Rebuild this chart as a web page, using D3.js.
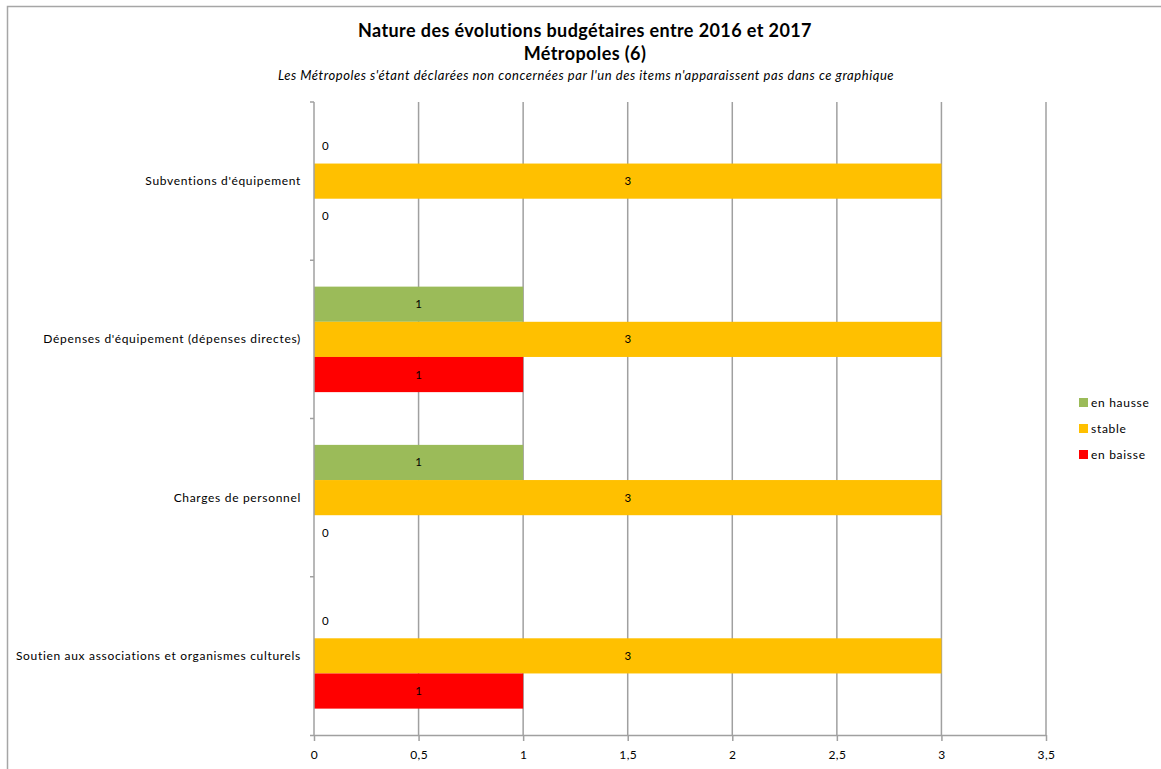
<!DOCTYPE html>
<html><head><meta charset="utf-8">
<script src="https://cdn.jsdelivr.net/npm/d3@7"></script>
<style>body{margin:0;background:#fff;font-family:Lato,"Open Sans",sans-serif;}</style>
</head><body><svg id="c" width="1161" height="769"></svg>
<script>
const categories = ["Subventions d'équipement","Dépenses d'équipement (dépenses directes)","Charges de personnel","Soutien aux associations et organismes culturels"];
const seriesNames = ["en hausse","stable","en baisse"];
const enHausse = [0,1,1,0];
const stable = [3,3,3,3];
const enBaisse = [0,1,0,1];
const xTicks = [0,0.5,1,1.5,2,2.5,3,3.5];
const colors = ["#9BBB59","#FFC000","#FF0000"];
const seriesValues = [enHausse, stable, enBaisse];

(function(){
const svg = d3.select("#c");
const W=1161,H=769;
const pL=314,pR=1046,pT=102,pB=735;
svg.append("rect").attr("x",7.5).attr("y",6.5).attr("width",W+10).attr("height",H+10).attr("fill","#fff").attr("stroke","#a6a6a6").attr("stroke-width",1.5);

const x = d3.scaleLinear().domain([0,3.5]).range([pL,pR]);
const y0 = d3.scaleBand().domain(categories).range([pT,pB]).paddingInner(1/3).paddingOuter(1/6);
const y1 = d3.scaleBand().domain(seriesNames).range([0,y0.bandwidth()]);

svg.append("g").selectAll("line").data(xTicks.slice(1)).join("line")
  .attr("x1",d=>x(d)).attr("x2",d=>x(d)).attr("y1",pT).attr("y2",pB)
  .attr("stroke","#a0a0a0").attr("stroke-width",1.5);

const data = [];
categories.forEach((c,i)=>seriesNames.forEach((s,j)=>data.push({c,s,j,v:seriesValues[j][i]})));
svg.append("g").selectAll("rect").data(data.filter(d=>d.v>0)).join("rect")
  .attr("x",x(0)).attr("y",d=>y0(d.c)+y1(d.s)).attr("width",d=>x(d.v)-x(0)).attr("height",y1.bandwidth())
  .attr("fill",d=>colors[d.j]);

svg.append("g").selectAll("text").data(data).join("text")
  .attr("x",d=>d.v>0?(x(0)+x(d.v))/2:x(0)+8)
  .attr("y",d=>y0(d.c)+y1(d.s)+y1.bandwidth()/2+4)
  .attr("text-anchor",d=>d.v>0?"middle":"start")
  .attr("font-size",11.5).attr("fill","#000").text(d=>d.v);

const xAxis = d3.axisBottom(x).tickValues(xTicks).tickSize(6).tickPadding(9).tickFormat(d=>String(d).replace(".",","));
const gx = svg.append("g").attr("transform",`translate(0,${pB})`).call(xAxis);
gx.select(".domain").attr("d",`M${pL-4},0.5H${pR}`).attr("stroke","#a0a0a0").attr("stroke-width",1.5);
gx.selectAll(".tick line").attr("stroke","#a0a0a0").attr("stroke-width",1.5);
gx.selectAll(".tick text").attr("font-size",12).attr("font-family","Lato").attr("fill","#000").attr("letter-spacing",0.4);

const yTicks = d3.range(categories.length+1).map(i=>pT+i*(pB-pT)/categories.length);
const gy = svg.append("g");
gy.append("line").attr("x1",pL).attr("x2",pL).attr("y1",pT).attr("y2",pB).attr("stroke","#a0a0a0").attr("stroke-width",1.5);
gy.selectAll(".tk").data(yTicks.slice(0,-1)).join("line").attr("class","tk")
  .attr("x1",pL-4).attr("x2",pL).attr("y1",d=>d).attr("y2",d=>d).attr("stroke","#a0a0a0").attr("stroke-width",1.5);
gy.selectAll("text").data(categories).join("text")
  .attr("x",301).attr("y",d=>y0(d)+y0.bandwidth()/2+4).attr("text-anchor","end")
  .attr("font-size",12).attr("letter-spacing",0.68).attr("fill","#000").text(d=>d);

svg.append("text").attr("x",585).attr("y",37).attr("text-anchor","middle").attr("font-size",18).attr("letter-spacing",0.4).attr("font-weight","bold").text("Nature des évolutions budgétaires entre 2016 et 2017");
svg.append("text").attr("x",585).attr("y",60).attr("text-anchor","middle").attr("font-size",18).attr("letter-spacing",0.4).attr("font-weight","bold").text("Métropoles (6)");
svg.append("text").attr("x",586).attr("y",80).attr("text-anchor","middle").attr("font-size",13).attr("letter-spacing",0.55).attr("font-style","italic").text("Les Métropoles s'étant déclarées non concernées par l'un des items n'apparaissent pas dans ce graphique");

const lg = svg.append("g").selectAll("g").data(seriesNames).join("g").attr("transform",(d,i)=>`translate(1079,${398+i*26})`);
lg.append("rect").attr("width",9).attr("height",9).attr("fill",(d,i)=>colors[i]);
lg.append("text").attr("x",12).attr("y",9).attr("font-size",12).attr("letter-spacing",0.7).text(d=>d);
})();
</script></body></html>
